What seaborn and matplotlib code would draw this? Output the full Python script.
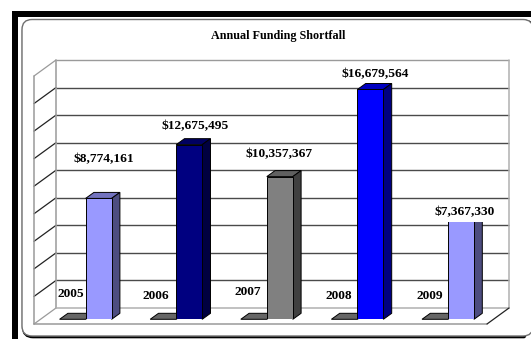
import matplotlib
matplotlib.use("Agg")
import matplotlib.pyplot as plt
import seaborn as sns
import pandas as pd
from matplotlib.patches import FancyBboxPatch, Polygon, Rectangle
from matplotlib.transforms import IdentityTransform

W, H = 531, 339
years = ["2005", "2006", "2007", "2008", "2009"]
shortfall = [8774161, 12675495, 10357367, 16679564, 7367330]
year_series = [0, 0, 0, 0, 0]
front_colors = ["#9999FF", "#000080", "#808080", "#0000FF", "#9999FF"]
top_colors = ["#7373BF", "#000060", "#606060", "#0000C0", "#7373BF"]
side_colors = ["#4D4D80", "#000040", "#404040", "#000080", "#4D4D80"]
value_labels = ["$8,774,161", "$12,675,495", "$10,357,367", "$16,679,564", "$7,367,330"]
chart_title = "Annual Funding Shortfall"
y_ticks = list(range(0, 18000001, 2000000))

sns.set_theme(style="white")
plt.rcParams["font.family"] = ["Liberation Serif"]
plt.rcParams["font.weight"] = "bold"

fig = plt.figure(figsize=(W / 100, H / 100), dpi=100, facecolor="white")

# Backdrop layer measured in pixels from the top-left corner
bg = fig.add_axes([0, 0, 1, 1])
bg.set_xlim(0, W)
bg.set_ylim(H, 0)
bg.axis("off")

bg.add_patch(Rectangle((12, 11), W - 12, 6, fc="black", ec="none"))
bg.add_patch(Rectangle((12, 11), 5.5, H - 11, fc="black", ec="none"))
for dx, dy, col, lw in [(1, 1.2, "black", 1.6), (0, 0, "#707070", 1.0)]:
    bg.add_patch(FancyBboxPatch((32 + dx, 29.5 + dy), 491, 296.5,
                                boxstyle="round,pad=10,rounding_size=10",
                                fc="white" if dx == 0 else "none", ec=col, lw=lw,
                                clip_on=True))

# Plot area of the bars: the plane sits a little behind the front of the floor
X0, X1 = 40.3, 493.3
Y0, Y18 = 319.3, 71.3
ax = fig.add_axes([X0 / W, 1 - Y0 / H, (X1 - X0) / W, (Y0 - Y18) / H])
ax.patch.set_alpha(0)

df = pd.DataFrame({
    "year": years * 2,
    "series": ["label"] * 5 + ["shortfall"] * 5,
    "amount": year_series + shortfall,
})
sns.barplot(data=df, x="year", y="amount", hue="series", order=years, dodge=True,
            width=0.574, gap=0, legend=False, ax=ax, zorder=5, saturation=1,
            palette=["#666666", "#9999FF"])
ax.set_xlim(-0.5, 4.5)
ax.set_ylim(y_ticks[0], y_ticks[-1])
ax.axis("off")

# Wall, floor and gridlines share the 18M scale of the bars
to_px_y = lambda v: H - ax.transData.transform((0, v))[1]
back_dx, back_dy = 15.7, -11.3
front_dx, front_dy = -6.3, 4.7
x_back_l, x_back_r = X0 + back_dx, X1 + back_dx
x_front_l, x_front_r = X0 + front_dx, X1 + front_dx
y_back_top = to_px_y(y_ticks[-1]) + back_dy
y_back_bot = to_px_y(0) + back_dy
y_front_top = to_px_y(y_ticks[-1]) + front_dy
y_front_bot = to_px_y(0) + front_dy

wall = "#9A9A9A"
for i, v in enumerate(y_ticks):
    yb = to_px_y(v) + back_dy
    yf = to_px_y(v) + front_dy
    col = wall if v in (y_ticks[0], y_ticks[-1]) else "#4A4A4A"
    if v != y_ticks[0]:
        bg.plot([x_back_l, x_back_r], [yb, yb], color=col, lw=1.0, solid_capstyle="butt")
    bg.plot([x_front_l, x_back_l], [yf, yb],
            color=wall if v in (y_ticks[0], y_ticks[-1]) else "#222222", lw=0.9)
bg.plot([x_back_l, x_back_l], [y_back_top, y_back_bot], color=wall, lw=1.1)
bg.plot([x_front_l, x_front_l], [y_front_top, y_front_bot], color=wall, lw=1.1)
bg.plot([x_back_r, x_back_r], [y_back_top, y_back_bot], color="#B0B0B0", lw=1.1)
bg.plot([x_back_l, x_back_r], [y_back_bot, y_back_bot], color="#B0B0B0", lw=1.1)
bg.plot([x_front_l, x_front_r], [y_front_bot, y_front_bot], color=wall, lw=1.1)
bg.plot([x_front_r, x_back_r], [y_front_bot, y_back_bot], color="#222222", lw=0.9)

# Extrude each bar with a top and a side face
depth_x, depth_y = 8.3, 6.0
fig.canvas.draw()
bars = sorted(ax.patches, key=lambda p: p.get_x())
for i, bar in enumerate(bars):
    idx = i // 2
    is_value = i % 2 == 1
    (xl, yl) = ax.transData.transform((bar.get_x(), 0))
    (xr, yt) = ax.transData.transform((bar.get_x() + bar.get_width(), bar.get_height()))
    top_c = top_colors[idx] if is_value else "#666666"
    side_c = side_colors[idx] if is_value else "#666666"
    kw = dict(transform=IdentityTransform(), ec="black", lw=0.7, zorder=4, clip_on=False)
    ax.add_patch(Polygon([(xl, yt), (xr, yt), (xr + depth_x, yt + depth_y), (xl + depth_x, yt + depth_y)],
                         fc=top_c, **kw))
    if is_value:
        ax.add_patch(Polygon([(xr, yl), (xr + depth_x, yl + depth_y), (xr + depth_x, yt + depth_y), (xr, yt)],
                             fc=side_c, **kw))
        bar.set_facecolor(front_colors[idx])
        bar.set_edgecolor("black")
        bar.set_linewidth(0.7)
    else:
        bar.set_visible(False)

# Text layer above the bars
fg = fig.add_axes([0, 0, 1, 1])
fg.set_xlim(0, W)
fg.set_ylim(H, 0)
fg.axis("off")
fg.patch.set_alpha(0)
fg.text(278, 36, chart_title, ha="center", va="center", fontsize=8.7, color="black")

# The last amount sits on a white plate that hides the top of its bar
fg.add_patch(Rectangle((433, 203), 64, 19, fc="white", ec="none"))
value_pos = [(104, 159), (195, 126), (279, 154), (375, 74), (465, 212)]
year_pos = [(71, 294), (156, 296), (248, 292), (339, 296), (430, 296)]
for lab, (px, py) in zip(value_labels, value_pos):
    fg.text(px, py, lab, ha="center", va="center", fontsize=9.6, color="black")
for lab, (px, py) in zip(years, year_pos):
    fg.text(px, py, lab, ha="center", va="center", fontsize=9.6, color="black")

fig.savefig("out.png", dpi=100)
